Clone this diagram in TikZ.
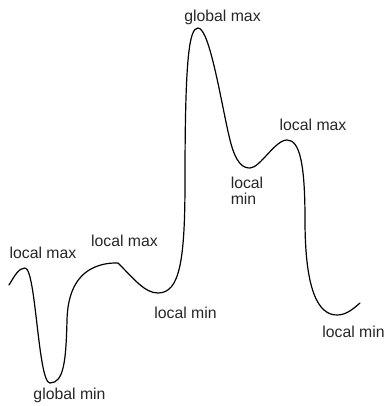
\documentclass[tikz,border=0pt]{standalone}
\usepackage{fontspec}
\setmainfont{Liberation Sans}
\begin{document}
\begin{tikzpicture}[x=1pt,y=-1pt,
  lbl/.style={inner sep=0pt,font=\fontsize{15.8}{16}\selectfont,text=black!85},
  curve/.style={draw=black,line width=1.2pt,line cap=round,line join=round}]
\useasboundingbox (0,0) rectangle (387,406);
\path[curve] (9,285) .. controls (15,275) and (19,268) .. (25,268)
  .. controls (36,268) and (38,383) .. (50,383)
  .. controls (64,383) and (66,360) .. (67,320)
  .. controls (68,282) and (85,268) .. (105,264)
  .. controls (110,263) and (114,263) .. (118,263)
  .. controls (135,280) and (145,293) .. (158,293)
  .. controls (180,293) and (185,260) .. (185,180)
  .. controls (185,60) and (189,28) .. (198,28)
  .. controls (210,28) and (222,108) .. (230,140)
  .. controls (236,164) and (243,168) .. (250,168)
  .. controls (260,168) and (275,140) .. (287,140)
  .. controls (300,140) and (305,165) .. (305,220)
  .. controls (305,290) and (318,315) .. (337,315)
  .. controls (347,315) and (354,308) .. (360,303);
\node[lbl] (lmaxa) at (43,253) {local max};
\node[lbl] (lmaxb) at (124.5,241) {local max};
\node[lbl] (gmin) at (69.5,395) {global min};
\node[lbl] (lmina) at (185.5,313) {local min};
\node[lbl] (gmax) at (222.5,17) {global max};
\node[lbl] (lmaxc) at (313,125) {local max};
\node[lbl,align=left] (lminb) at (247,191) {local\\min};
\node[lbl] (lminc) at (353.5,332) {local min};
\end{tikzpicture}
\end{document}
